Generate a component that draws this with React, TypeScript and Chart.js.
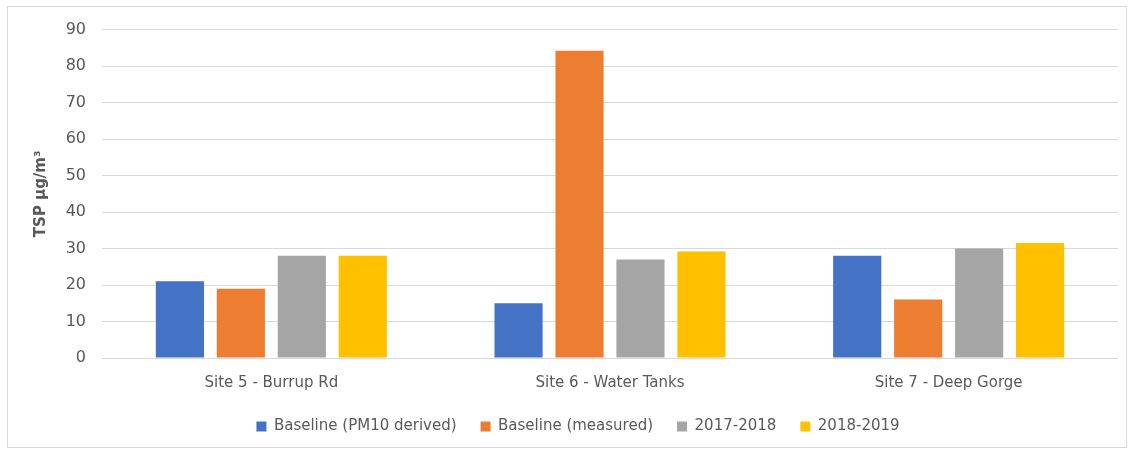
import React, { useEffect, useRef } from "react";
import { Chart, registerables } from "chart.js";

Chart.register(...registerables);

const categories = ["Site 5 - Burrup Rd", "Site 6 - Water Tanks", "Site 7 - Deep Gorge"];
const seriesNames = ["Baseline (PM10 derived)", "Baseline (measured)", "2017-2018", "2018-2019"];
const baselinePm10 = [21, 15, 28];
const baselineMeasured = [19, 84.2, 16];
const y2017 = [28, 27, 30];
const y2018 = [28, 29.2, 31.5];
const colors = ["#4472c4", "#ed7d31", "#a5a5a5", "#ffc000"];
const yTitle = "TSP µg/m³";

export default function App() {
  const ref = useRef<HTMLCanvasElement | null>(null);
  useEffect(() => {
    if (!ref.current) return;
    const font = "'DejaVu Sans', sans-serif";
    const values = [baselinePm10, baselineMeasured, y2017, y2018];
    const chart = new Chart(ref.current, {
      type: "bar",
      data: {
        labels: categories,
        datasets: seriesNames.map((n, i) => ({
          label: n,
          data: values[i],
          backgroundColor: colors[i],
          borderWidth: 0,
          categoryPercentage: 0.72,
          barPercentage: 0.79,
        })),
      },
      options: {
        animation: false,
        responsive: false,
        maintainAspectRatio: false,
        layout: { padding: { left: 30, right: 8, top: 9, bottom: 3 } },
        plugins: {
          legend: {
            position: "bottom",
            labels: {
              boxWidth: 10,
              boxHeight: 10,
              padding: 24,
              color: "#595959",
              font: { family: font, size: 15 },
            },
          },
          tooltip: { enabled: false },
        },
        scales: {
          x: {
            grid: { display: false },
            border: { display: false },
            ticks: { color: "#595959", font: { family: font, size: 15 }, padding: 8 },
            afterFit: (s: any) => {
              s.height = s.height - 5;
            },
          },
          y: {
            min: 0,
            max: 90,
            ticks: { stepSize: 10, color: "#595959", font: { family: font, size: 16 }, padding: 16 },
            grid: { color: "#d9d9d9", lineWidth: 1, drawTicks: false },
            border: { display: false },
            title: {
              display: true,
              text: yTitle,
              color: "#595959",
              font: { family: font, size: 15, weight: "bold" },
              padding: { top: -6, bottom: 0 },
            },
            afterFit: (s: any) => {
              s.width = 64;
              s.paddingTop = Math.max(0, s.paddingTop - 3);
            },
          },
        },
      },
    });
    return () => chart.destroy();
  }, []);
  return (
    <div
      style={{
        position: "absolute",
        left: 7,
        top: 6,
        width: 1120,
        height: 442,
        border: "1px solid #d9d9d9",
        boxSizing: "border-box",
      }}
    >
      <canvas ref={ref} width={1118} height={440} style={{ display: "block" }} />
    </div>
  );
}
